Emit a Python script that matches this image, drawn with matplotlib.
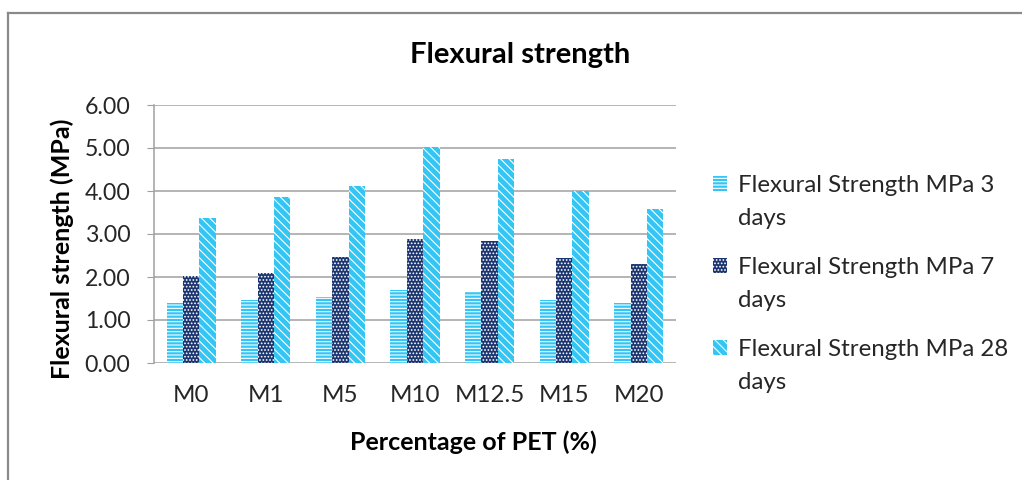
import numpy as np
import matplotlib
matplotlib.use("Agg")
import matplotlib.pyplot as plt
from matplotlib.container import BarContainer
from matplotlib.lines import Line2D
from matplotlib.patches import Rectangle
from matplotlib.legend_handler import HandlerPatch

mixes = ["M0", "M1", "M5", "M10", "M12.5", "M15", "M20"]
days_3 = [1.40, 1.47, 1.53, 1.70, 1.65, 1.47, 1.40]
days_7 = [2.02, 2.09, 2.47, 2.89, 2.84, 2.44, 2.30]
days_28 = [3.37, 3.85, 4.12, 5.02, 4.74, 3.99, 3.57]
series_labels = ["Flexural Strength MPa 3\ndays", "Flexural Strength MPa 7\ndays", "Flexural Strength MPa 28\ndays"]

plt.rcParams["font.family"] = ["Lato", "DejaVu Sans"]
plt.rcParams["hatch.linewidth"] = 0.8
LEG_FS = 17.3


def top_aligned_patch(legend, orig_handle, xdescent, ydescent, width, height, fontsize):
    # put the legend swatch beside the first line of the two-line label
    return Rectangle((-xdescent, -ydescent + 0.78 * fontsize), width, height)


def from_first_bar(legend_handle, orig_handle):
    legend_handle.update_from(orig_handle.patches[0])


fig = plt.figure(figsize=(10.22, 4.8), dpi=100)
# only the top and left edges of the chart frame are visible
fig.add_artist(Line2D([0.0075, 0.0075], [0, 0.973], transform=fig.transFigure, color="#8a8a8a", linewidth=1.6))
fig.add_artist(Line2D([0.0075, 1.0], [0.973, 0.973], transform=fig.transFigure, color="#8a8a8a", linewidth=1.6))

ax = fig.add_axes([154 / 1022, 1 - 363 / 480, 522 / 1022, 258 / 480])

x = np.arange(len(mixes))
w = 0.22
styles = [("#33c6f4", "-----"), ("#1b3570", "....."), ("#33c6f4", "\\\\\\\\")]
for i, (vals, (col, hatch), lab) in enumerate(zip([days_3, days_7, days_28], styles, series_labels)):
    ax.bar(x + (i - 1) * w, vals, w, color=col, hatch=hatch, edgecolor="white",
           linewidth=0, label=lab, zorder=3)

ax.set_ylim(0, 6)
ax.set_xlim(-0.5, len(mixes) - 0.5)
ax.set_yticks(np.arange(0, 6.01, 1))
ax.set_yticklabels([f"{v:.2f}" for v in np.arange(0, 6.01, 1)])
ax.set_xticks(x)
ax.set_xticklabels(mixes)
ax.grid(axis="y", color="#a0a0a0", linewidth=1.1, zorder=0)
for s in ["top", "right", "bottom"]:
    ax.spines[s].set_visible(False)
ax.spines["left"].set_color("#a0a0a0")
ax.spines["left"].set_linewidth(1.1)
ax.tick_params(axis="y", length=5, color="#a0a0a0", labelsize=16.7, pad=12, labelcolor="#262626")
ax.tick_params(axis="x", length=0, labelsize=17.4, pad=16, labelcolor="#262626")

ax.set_ylabel("Flexural strength (MPa)", fontsize=18, fontweight="bold", va="center")
ax.yaxis.set_label_coords((62 - 154) / 522, (363 - 249) / 258)
ax.set_xlabel("Percentage of PET (%)", fontsize=18, fontweight="bold", va="center")
ax.xaxis.set_label_coords((473 - 154) / 522, (363 - 442) / 258)
fig.text(520 / 1022, 1 - 55 / 480, "Flexural strength", ha="center", va="center", fontsize=21, fontweight="bold")

leg = ax.legend(loc="center left", bbox_to_anchor=((713 - 154) / 522, (363 - 284) / 258), frameon=False,
                fontsize=LEG_FS, borderpad=0, borderaxespad=0, handlelength=0.58, handleheight=0.58,
                handletextpad=0.45, labelspacing=1.2,
                handler_map={BarContainer: HandlerPatch(patch_func=top_aligned_patch, update_func=from_first_bar)})
for t in leg.get_texts():
    t.set_linespacing(1.66)
    t.set_color("#262626")

fig.savefig("out.png", dpi=100)
